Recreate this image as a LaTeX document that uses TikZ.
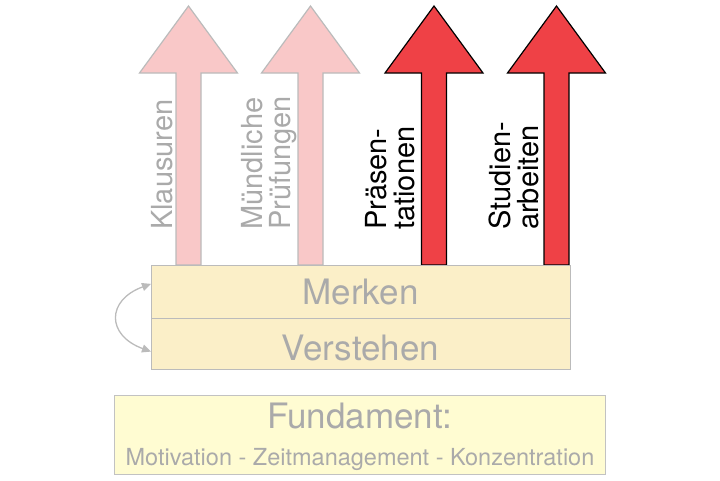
\documentclass[tikz,border=0pt]{standalone}
\usepackage{fontspec}
\setmainfont{TeX Gyre Heros}
\usetikzlibrary{arrows.meta}
\definecolor{palefill}{HTML}{F9C8C8}
\definecolor{redfill}{HTML}{EF4146}
\definecolor{boxfill}{HTML}{FBEFC8}
\definecolor{fundfill}{HTML}{FFFCD2}
\definecolor{greyline}{HTML}{BBBBBB}
\definecolor{greytext}{HTML}{AAAAAA}
\tikzset{
  palearrow/.style={fill=palefill, draw=greyline, line width=1.2pt, line join=miter},
  redarrow/.style={fill=redfill, draw=black, line width=1.2pt, line join=miter},
  layerbox/.style={fill=boxfill, draw=greyline, line width=1.2pt},
  fundbox/.style={fill=fundfill, draw=greyline!90, line width=1.2pt},
  vlabel/.style={rotate=90, anchor=base west, inner sep=0pt, font=\fontsize{29}{34}\selectfont},
  boxlabel/.style={anchor=base, inner sep=0pt, text=greytext, font=\fontsize{35}{40}\selectfont},
  looparrow/.style={greyline, line width=1.3pt, {Triangle[length=9pt,width=8pt]}-{Triangle[length=9pt,width=8pt]}},
}
\newcommand{\uparrowshape}[2]{% center x, style
  \draw[#2] (#1-12.5,265) -- (#1-12.5,73) -- (#1-49,73) -- (#1,6) -- (#1+49,73) -- (#1+12.5,73) -- (#1+12.5,265) -- cycle;
}
\begin{document}
\begin{tikzpicture}[x=1pt,y=-1pt]
\useasboundingbox (0,0) rectangle (720,480);
% arrows
\uparrowshape{188.5}{palearrow}
\uparrowshape{310.5}{palearrow}
\uparrowshape{434}{redarrow}
\uparrowshape{556.5}{redarrow}
% layer boxes
\node[layerbox, minimum width=419pt, minimum height=52.5pt, inner sep=0pt, anchor=north west] (merkenbox) at (151,265) {};
\node[layerbox, minimum width=419pt, minimum height=51pt, inner sep=0pt, anchor=north west] (verstbox) at (151,317.5) {};
\node[boxlabel] (merken) at (360.5,304.5) {Merken};
\node[boxlabel] (verstehen) at (360.5,360) {Verstehen};
% fundament
\node[fundbox, minimum width=491pt, minimum height=79pt, inner sep=0pt, anchor=north west] (fundbox) at (114,395) {};
\node[boxlabel] (fundament) at (359.5,428) {Fundament:};
\node[anchor=base, inner sep=0pt, text=greytext, font=\fontsize{23.5}{28}\selectfont] (fundlist) at (360,465) {Motivation - Zeitmanagement - Konzentration};
% vertical labels
\node[vlabel, text=greytext] (klausuren) at (172,230) {Klausuren};
\node[vlabel, text=greytext] (muendl) at (262,230) {Mündliche};
\node[vlabel, text=greytext] (pruef) at (290,230) {Prüfungen};
\node[vlabel, text=black] (praes) at (386,230) {Präsen-};
\node[vlabel, text=black] (tation) at (414,230) {tationen};
\node[vlabel, text=black] (studien) at (510,230) {Studien-};
\node[vlabel, text=black] (arbeiten) at (538,230) {arbeiten};
% loop arrow
\coordinate (loopA) at ([yshift=8pt]merkenbox.west);
\coordinate (loopB) at ([yshift=-8pt]verstbox.west);
\draw[looparrow] (loopA) to[out=200, in=160, looseness=1.8] (loopB);
\end{tikzpicture}
\end{document}
